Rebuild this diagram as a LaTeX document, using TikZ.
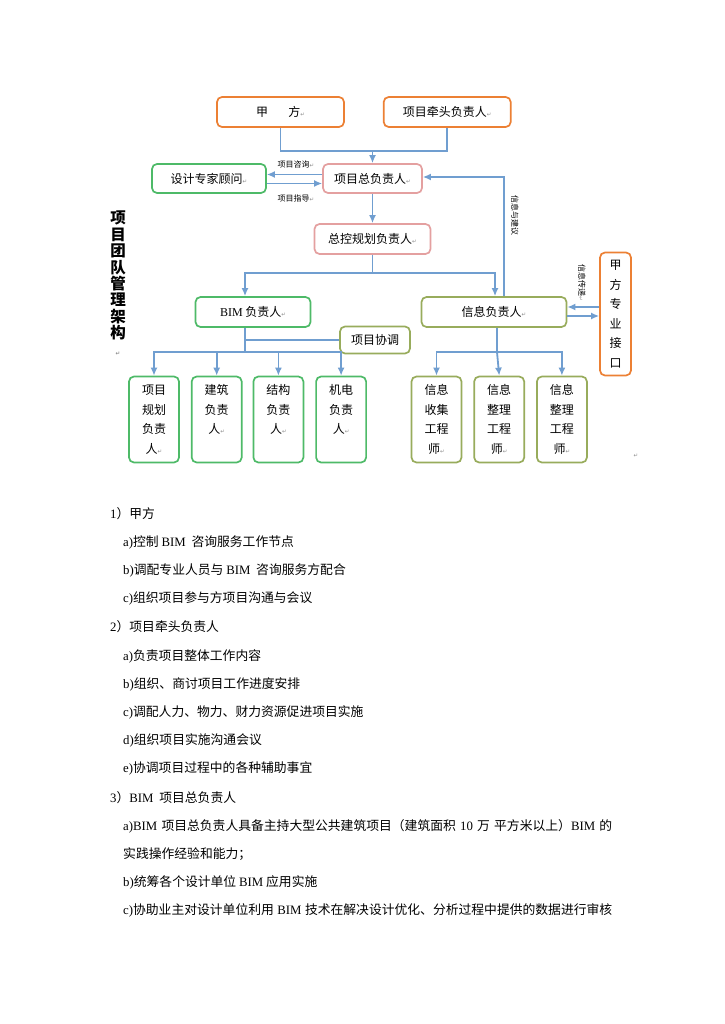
\documentclass[tikz,border=0pt]{standalone}
\usepackage{fontspec}
\setmainfont{Liberation Serif}
\newfontfamily\cjk{Noto Sans CJK SC}
\newfontfamily\latin{Liberation Serif}
\newfontfamily\sym{DejaVu Sans}
\usetikzlibrary{arrows.meta,positioning,calc}
\definecolor{boxorange}{RGB}{236,128,52}
\definecolor{boxgreen}{RGB}{78,186,104}
\definecolor{boxpink}{RGB}{228,160,160}
\definecolor{boxolive}{RGB}{152,172,92}
\definecolor{linkblue}{RGB}{112,158,208}
\newcommand{\ret}{{\sym\color{black!45}\fontsize{5.5}{6}\selectfont ↵}}
\newcommand{\lat}[1]{{\latin #1}}
\tikzset{
  box/.style={
    rectangle,
    rounded corners=5pt,
    line width=1.7pt,
    fill=white,
    align=center,
    inner sep=2pt,
    font=\cjk\fontsize{12}{19.5}\selectfont
  },
  orangebox/.style={box, draw=boxorange},
  pinkbox/.style={box, draw=boxpink},
  greenbox/.style={box, draw=boxgreen},
  olivebox/.style={box, draw=boxolive},
  tallbox/.style={
    minimum width=50pt,
    minimum height=86pt
  },
  link/.style={
    draw=linkblue,
    line width=1.8pt
  },
  arrow/.style={
    link,
    -{Latex[length=8pt,width=7pt]}
  },
  tag/.style={
    inner sep=1pt,
    font=\cjk\fontsize{8}{9}\selectfont
  },
  title/.style={
    anchor=north,
    align=center,
    inner sep=0pt,
    font=\cjk\bfseries\fontsize{15.5}{16.4}\selectfont
  },
  para/.style={
    anchor=base west,
    inner sep=0pt,
    font=\cjk\fontsize{12.8}{15}\selectfont
  }
}

\begin{document}
\begin{tikzpicture}[x=1pt,y=-1pt]
  \useasboundingbox (0,0) rectangle (724,1024);
  \fill[white] (0,0) rectangle (724,1024);

  \node[orangebox, minimum width=127pt, minimum height=30pt] (jiafang) at (280.5,112) {甲\hspace{1.7em}方\ret};
  \node[orangebox, minimum width=127pt, minimum height=30pt, right=38pt of jiafang] (qiantou) {项目牵头负责人\ret};
  \node[pinkbox, minimum width=99pt, minimum height=29pt] (zong) at (372.5,178.5) {项目总负责人\ret};
  \node[greenbox, minimum width=114pt, minimum height=29pt] (guwen) at (209,178.5) {设计专家顾问\ret};
  \node[pinkbox, minimum width=116pt, minimum height=30pt] (zongkong) at (372.5,239) {总控规划负责人\ret};
  \node[greenbox, minimum width=115pt, minimum height=30pt] (bim) at (253,312) {\lat{BIM} 负责人\ret};
  \node[olivebox, minimum width=145pt, minimum height=30pt] (xinxi) at (494,312) {信息负责人\ret};
  \node[olivebox, minimum width=70pt, minimum height=27pt] (xietiao) at (375,340) {项目协调};
  \node[orangebox, minimum width=31pt, minimum height=123pt] (jiekou) at (615.5,314) {甲\\方\\专\\业\\接\\口};

  \node[greenbox, tallbox] (guihua) at (154,419.5) {项目\\规划\\负责\\人\ret};
  \node[greenbox, tallbox, right=11pt of guihua] (jianzhu) {建筑\\负责\\人\ret\\\phantom{人}};
  \node[greenbox, tallbox, right=10pt of jianzhu] (jiegou) {结构\\负责\\人\ret\\\phantom{人}};
  \node[greenbox, tallbox, right=11pt of jiegou] (jidian) {机电\\负责\\人\ret\\\phantom{人}};
  \node[olivebox, tallbox] (shouji) at (436.5,419.5) {信息\\收集\\工程\\师\ret};
  \node[olivebox, tallbox, right=11pt of shouji] (zhengli) {信息\\整理\\工程\\师\ret};
  \node[olivebox, tallbox, right=11pt of zhengli] (zhenglib) {信息\\整理\\工程\\师\ret};

  \node[tag] (zixun) at (296,164) {项目咨询\ret};
  \node[tag] (zhidao) at (296,198) {项目指导\ret};
  \node[tag, rotate=-90] (jianyi) at (515,216) {信息与建议};
  \node[tag, rotate=-90] (chuandi) at (582,283) {信息传递\ret};
  \node[title] (biaoti) at (118,211) {项\\目\\团\\队\\管\\理\\架\\构\\\ret};
  \node[tag] (mark) at (636,456) {\ret};

  \coordinate (topbus) at (372.5,151);
  \coordinate (ctrlbus) at (372.5,273);
  \coordinate (bimmid) at (245,340);
  \coordinate (bimbus) at (245,352);
  \coordinate (infobus) at (497,352);

  \draw[link] (jiafang.south) |- (topbus) -| (qiantou.south);
  \draw[arrow] (topbus) -- (zong.north);
  \draw[arrow] ([yshift=4pt]zong.west) -- ([yshift=4pt]guwen.east);
  \draw[arrow] ([yshift=-5pt]guwen.east) -- ([yshift=-5pt]zong.west);
  \draw[arrow] (zong.south) -- (zongkong.north);
  \draw[link] (zongkong.south) -- (ctrlbus);
  \draw[arrow] (ctrlbus) -| ([xshift=-8pt]bim.north);
  \draw[arrow] (ctrlbus) -| ([xshift=1pt]xinxi.north);
  \draw[arrow] ([xshift=10pt]xinxi.north) |- ([yshift=1.5pt]zong.east);
  \draw[arrow] ($(jiekou.west |- xinxi.east)+(0,-5)$) -- ($(xinxi.east)+(0,-5)$);
  \draw[arrow] ($(xinxi.east)+(0,4)$) -- ($(jiekou.west |- xinxi.east)+(0,4)$);
  \draw[link] ([xshift=-8pt]bim.south) -- (bimbus);
  \draw[link] (bimmid) -- (xietiao.west);
  \draw[arrow] (bimbus) -| (guihua.north);
  \draw[arrow] (bimbus) -| (jianzhu.north);
  \draw[arrow] (bimbus) -| (jiegou.north);
  \draw[arrow] (bimbus) -| (jidian.north);
  \draw[link] ([xshift=3pt]xinxi.south) -- (infobus);
  \draw[arrow] (infobus) -| (shouji.north);
  \draw[arrow] (infobus) -- (zhengli.north);
  \draw[arrow] (infobus) -| (zhenglib.north);

  \node[para] (s1) at (110,518) {\lat{1}）甲方};
  \node[para] (s1a) at (123,546) {\lat{a)}控制 \lat{BIM}\ \ 咨询服务工作节点};
  \node[para] (s1b) at (123,574) {\lat{b)}调配专业人员与 \lat{BIM}\ \ 咨询服务方配合};
  \node[para] (s1c) at (123,602) {\lat{c)}组织项目参与方项目沟通与会议};
  \node[para] (s2) at (110,631) {\lat{2}）项目牵头负责人};
  \node[para] (s2a) at (123,660) {\lat{a)}负责项目整体工作内容};
  \node[para] (s2b) at (123,688) {\lat{b)}组织、商讨项目工作进度安排};
  \node[para] (s2c) at (123,716) {\lat{c)}调配人力、物力、财力资源促进项目实施};
  \node[para] (s2d) at (123,744) {\lat{d)}组织项目实施沟通会议};
  \node[para] (s2e) at (123,772) {\lat{e)}协调项目过程中的各种辅助事宜};
  \node[para] (s3) at (110,802) {\lat{3}）\lat{BIM}\ \ 项目总负责人};
  \node[para] (s3a) at (123,830) {\makebox[489pt][s]{\lat{a)BIM} 项目总负责人具备主持大型公共建筑项目（建筑面积 \lat{10} 万 平方米以上）\lat{BIM} 的}};
  \node[para] (s3a2) at (123,858) {实践操作经验和能力；};
  \node[para] (s3b) at (123,886) {\lat{b)}统筹各个设计单位 \lat{BIM} 应用实施};
  \node[para] (s3c) at (123,914) {\makebox[489pt][s]{\lat{c)}协助业主对设计单位利用 \lat{BIM} 技术在解决设计优化、分析过程中提供的数据进行审核}};
\end{tikzpicture}
\end{document}
